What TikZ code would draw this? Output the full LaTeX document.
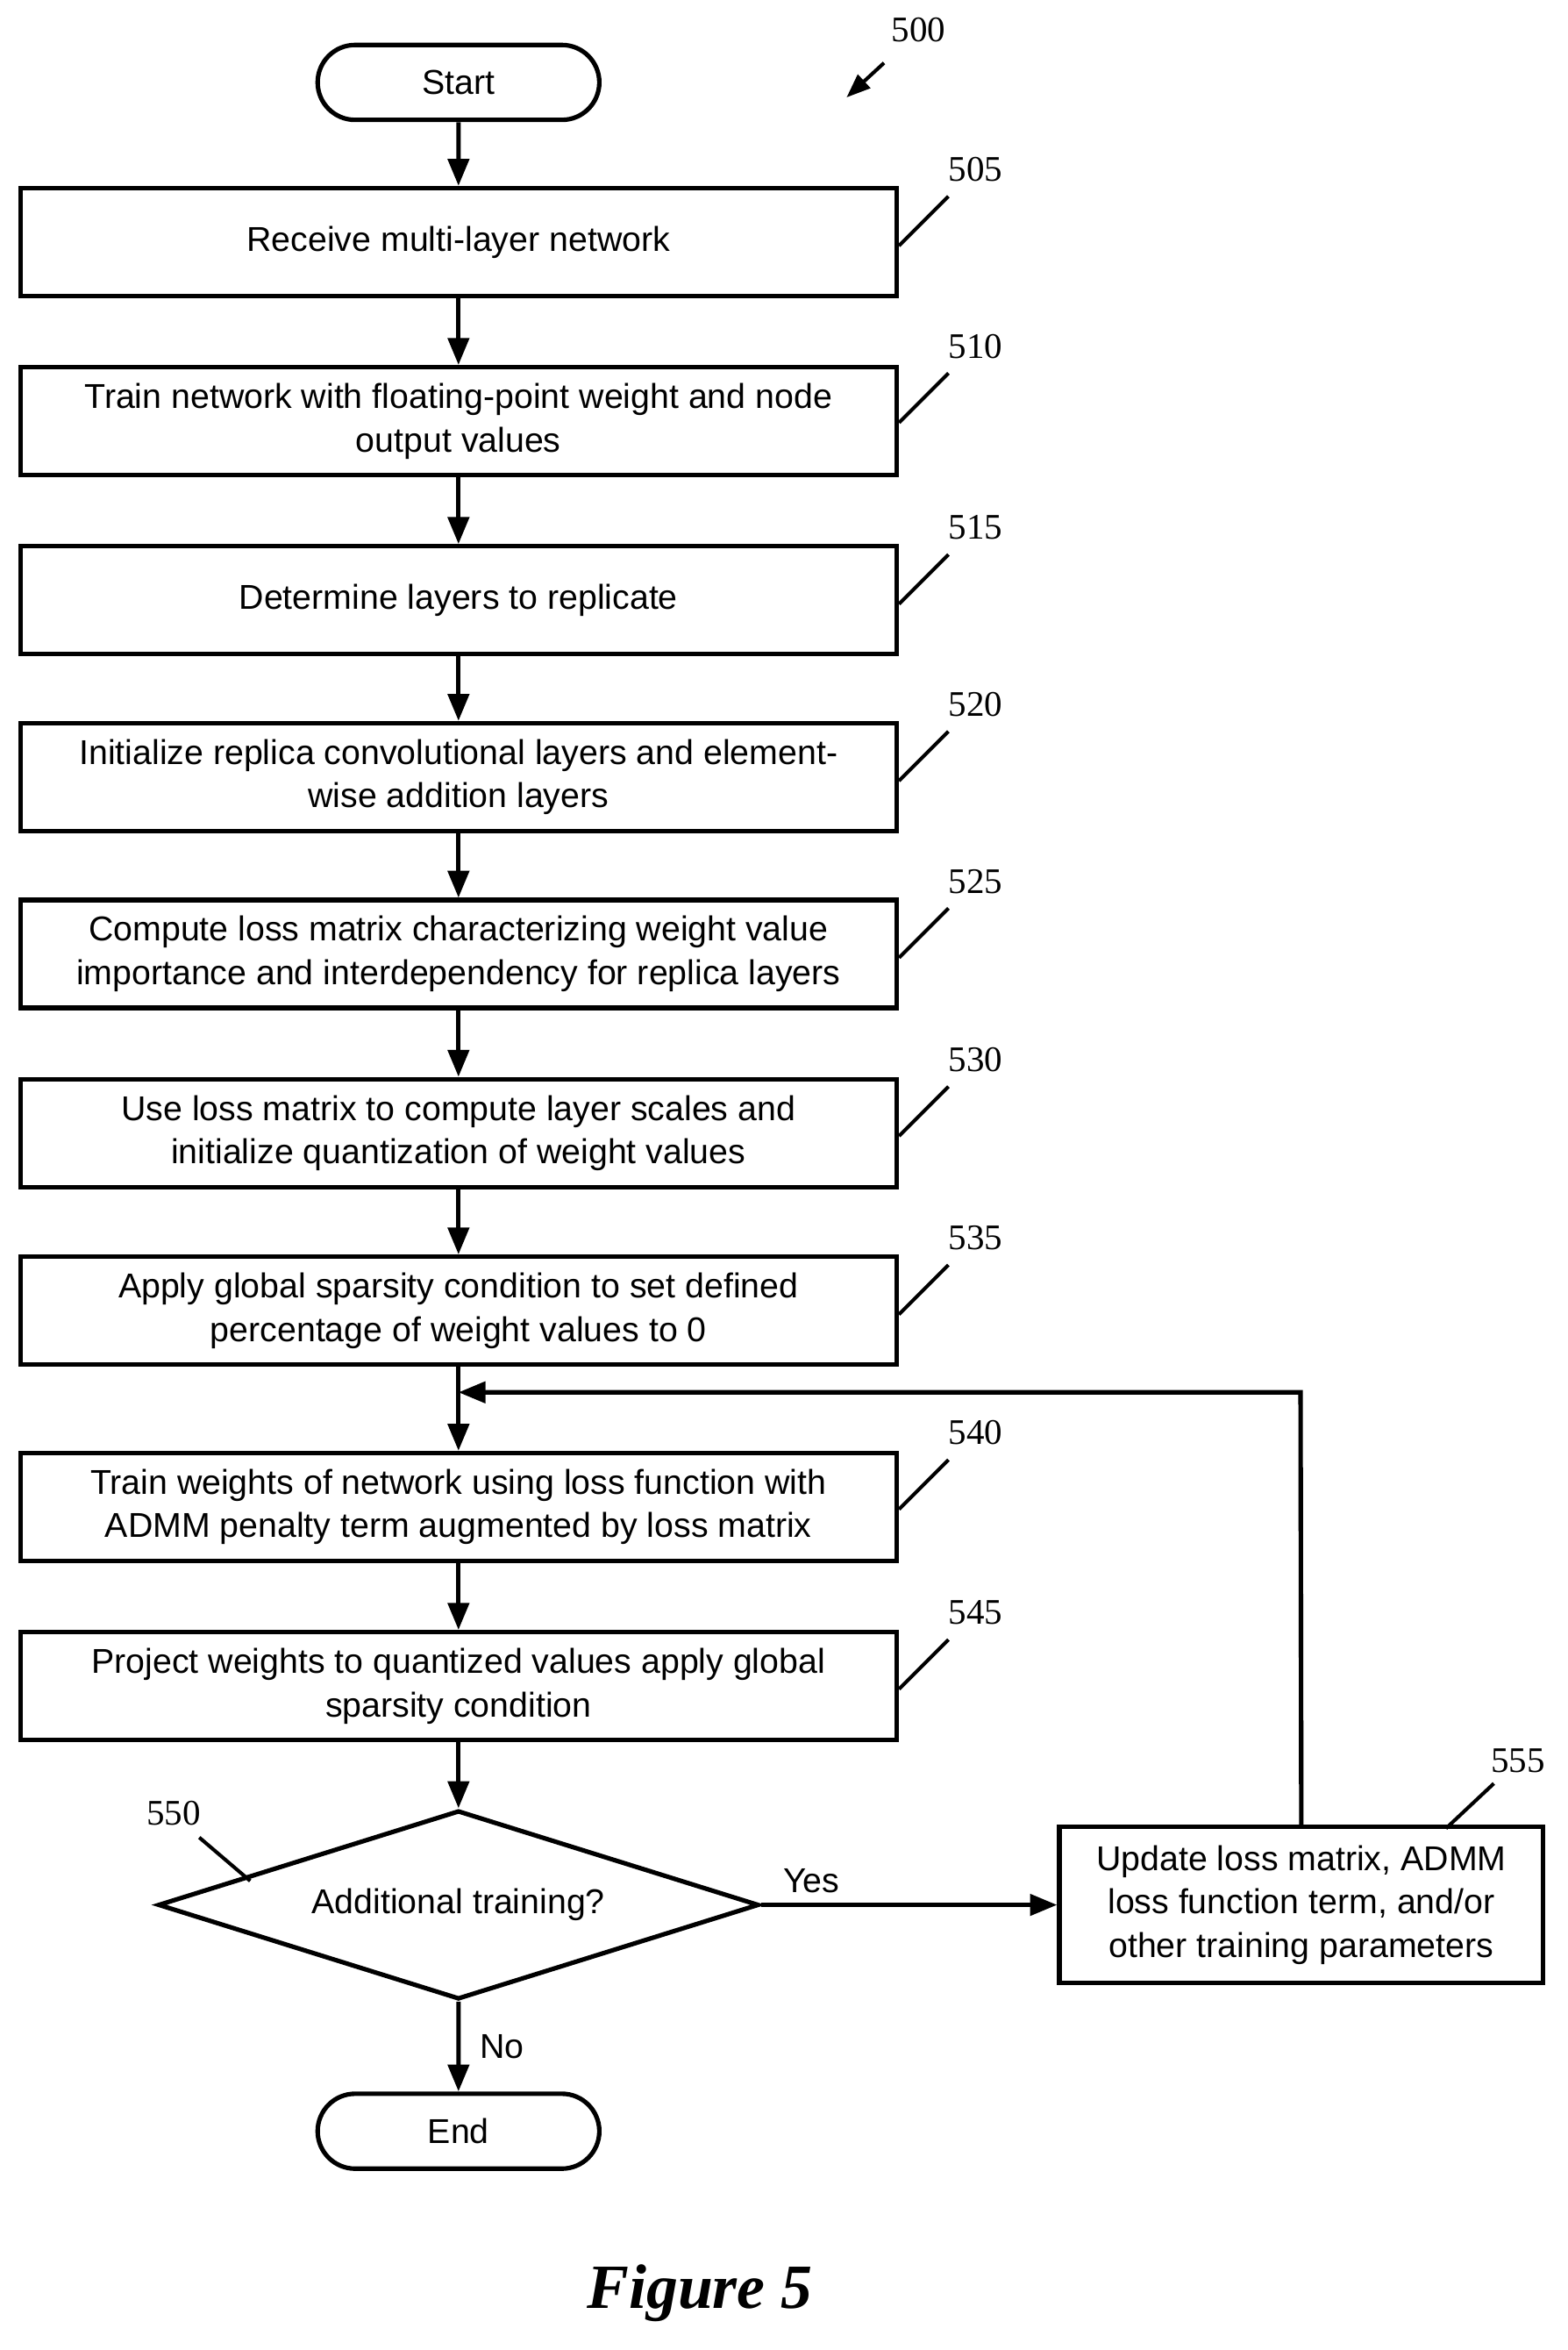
\documentclass[tikz,border=0pt]{standalone}
\usepackage{fontspec}
\setmainfont{Liberation Sans}
\newfontfamily\serifnum{Liberation Serif}
\usetikzlibrary{arrows.meta,shapes.geometric}
\begin{document}
\begin{tikzpicture}[x=0.5pt,y=-0.5pt,line width=1.5pt,
  box/.style={draw,rectangle,minimum width=292.5pt,minimum height=36pt,inner sep=0pt,align=center,font=\fontsize{11.5}{14.5}\selectfont},
  term/.style={draw,rounded rectangle,minimum width=94pt,minimum height=25pt,inner sep=0pt,font=\fontsize{11.5}{14}\selectfont},
  arr/.style={-{Triangle[length=9pt,width=7pt]}},
  lbl/.style={font=\serifnum\fontsize{12}{14}\selectfont},
  ld/.style={line width=1.2pt}]
\useasboundingbox (0,0) rectangle (1046,1568);
\usetikzlibrary{shapes.misc}
\node[term] (start) at (306,55) {Start};
\node[box] (b505) at (306,161.5) {Receive multi-layer network};
\node[box] (b510) at (306,281) {Train network with floating-point weight and node\\output values};
\node[box] (b515) at (306,400.5) {Determine layers to replicate};
\node[box] (b520) at (306,518.5) {Initialize replica convolutional layers and element-\\wise addition layers};
\node[box] (b525) at (306,636.5) {Compute loss matrix characterizing weight value\\importance and interdependency for replica layers};
\node[box] (b530) at (306,756) {Use loss matrix to compute layer scales and\\initialize quantization of weight values};
\node[box] (b535) at (306,874.5) {Apply global sparsity condition to set defined\\percentage of weight values to 0};
\node[box] (b540) at (306,1005.5) {Train weights of network using loss function with\\ADMM penalty term augmented by loss matrix};
\node[box] (b545) at (306,1125) {Project weights to quantized values apply global\\sparsity condition};
\node[draw,diamond,aspect=3.2,minimum width=200.5pt,minimum height=63pt,inner sep=0pt,font=\fontsize{11.5}{14}\selectfont] (d550) at (306,1271) {Additional training?};
\node[term] (end) at (306,1422) {End};
\node[draw,rectangle,minimum width=161.5pt,minimum height=52pt,inner sep=0pt,align=center,font=\fontsize{11.5}{14.5}\selectfont] (b555) at (868.5,1271) {Update loss matrix, ADMM\\loss function term, and/or\\other training parameters};
\coordinate (loop) at (868,929);
\coordinate (join) at (306,929);
\draw[arr] (start) -- (b505);
\draw[arr] (b505) -- (b510);
\draw[arr] (b510) -- (b515);
\draw[arr] (b515) -- (b520);
\draw[arr] (b520) -- (b525);
\draw[arr] (b525) -- (b530);
\draw[arr] (b530) -- (b535);
\draw[arr] (b535) -- (b540);
\draw[arr] (b540) -- (b545);
\draw[arr] (b545) -- (d550);
\draw[arr] (d550.south) -- node[right,xshift=3pt,font=\fontsize{11.5}{14}\selectfont]{No} (end);
\draw[arr] (d550.east) -- node[above,pos=0.17,font=\fontsize{11.5}{14}\selectfont]{Yes} (b555.west);
\draw[arr] (b555.north) -- (loop) -- (join);
\node[lbl] (l500) at (613,20) {500};
\draw[ld,-{Triangle[length=8pt,width=6pt]}] (590,42) -- (565,65);
\foreach \n/\y in {505/126,510/244,515/365,520/483,525/601,530/720,535/839,540/969,545/1089}{
  \node[lbl] (l\n) at (651,\y-13) {\n};
  \draw[ld] (633,\y+5) -- (600,\y+38);
}
\node[lbl] (l550) at (116,1210) {550};
\draw[ld] (133,1226) -- (167,1255);
\node[lbl] (l555) at (1013,1175) {555};
\draw[ld] (997,1190) -- (965,1220);
\node[font=\serifnum\bfseries\itshape\fontsize{21}{24}\selectfont] (fig) at (467,1530) {Figure 5};
\end{tikzpicture}
\end{document}
